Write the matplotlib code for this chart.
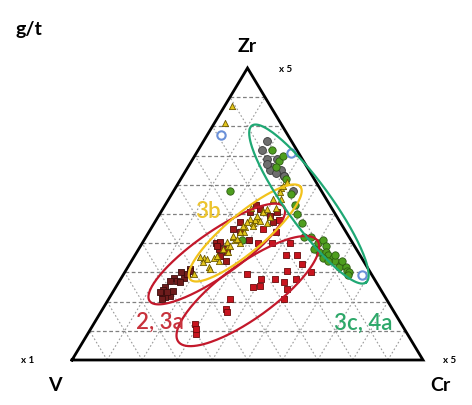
import matplotlib
matplotlib.use("Agg")
import matplotlib.pyplot as plt
import numpy as np

plt.rcParams['font.family'] = ['Lato', 'DejaVu Sans']

# ternary values in % (Zr top, Cr right, V = rest)
blue_zr = [77, 71, 29]
blue_cr = [4, 27, 68]

gray_zr = [75, 69, 66, 65, 63, 65, 69, 63, 58, 72, 64, 67]
gray_cr = [18, 21, 24, 27, 29, 24, 24, 29, 34, 18, 26, 22]

green_zr = [72, 68, 70, 66, 62, 58, 53, 50, 47, 42, 42, 40, 41, 39, 37, 37, 36, 35, 35, 34,
            33, 32, 32, 30.5, 30, 29, 34, 36, 38, 34, 57, 41]
green_cr = [21, 25, 25, 25, 30, 16, 37, 39, 42, 45, 47, 50, 51, 53, 52, 54, 55, 54, 57, 58,
            60, 60, 62, 63, 64, 64, 60, 57, 50, 56, 34, 28]

yel_zr = [87, 81, 52, 48, 47, 44, 41, 39, 37, 34, 35, 32, 51, 47, 59, 55, 52, 49, 48, 29.5,
          45.5, 42, 40, 35,
          48.3, 49.3, 50.7, 51.7, 45.9, 43.8, 42.5, 40.4, 38.0, 35.6, 34.6, 33.6, 35.3, 45.9,
          47.6, 55.1, 57.5, 59.6, 61.0, 39.0, 41.4, 47.3, 31.2]
yel_cr = [2, 3, 25, 29, 28, 27, 26, 25, 26, 25, 20, 23, 29, 32, 30, 32, 32, 32, 28, 20,
          26.5, 25, 28, 23,
          26.6, 28.0, 29.1, 29.8, 25.8, 26.0, 24.7, 24.0, 24.0, 23.5, 21.2, 20.5, 18.9, 28.7,
          29.8, 29.7, 30.5, 30.3, 30.8, 25.5, 26.3, 26.3, 23.7]

dred_zr = [40, 38, 34, 41, 53, 44, 38, 50.7, 47.3, 44.9, 40.4, 39.0, 35.6, 37.0, 51.7, 49.3,
           50.7, 47.3]
dred_cr = [21, 23, 27, 30, 26, 26, 25, 25.4, 24.3, 23.5, 22.0, 21.8, 24.4, 25.7, 27.8, 31.7,
           33.1, 33.7]

brown_zr = [30, 28, 25, 23, 22, 27, 28, 29.5, 21.6, 23.6, 27, 24, 21, 31, 30.5, 23.3, 26.7, 23.3]
brown_cr = [16, 15, 14, 14, 17, 16.5, 18, 18, 15.7, 17, 14.5, 14, 15, 18, 18.4, 13.5, 17.4, 15.5]

red_zr = [29.5, 21, 17.5, 16.4, 25, 25.3, 27.7, 27.7, 26.7, 24.3, 21, 30.5, 27.7, 12.3, 8.9,
          10.6, 40, 36, 33, 30, 36, 40, 44, 40, 48, 45]
red_cr = [35, 34.5, 35, 36, 39, 41, 40, 44, 47, 49, 50, 46, 50, 29, 31,
          30, 42, 46, 49, 53, 43, 37, 36, 33, 35, 32]

# ellipses: centre (Zr, Cr), semi-axes in px, angle deg
ell_zr = [36.3, 23.6, 43.5, 53.4]
ell_cr = [23.1, 38.3, 27.6, 40.8]
ell_a = [82, 86, 72, 97]
ell_b = [22, 27, 19, 22]
ell_ang = [35, 36, 40, -54]
ell_col = ['#c3182b', '#c3182b', '#f2c21b', '#1fa874']

PX_X = 3.51  # px per unit along base
PX_Y = 2.92  # px per unit of height


def tern(zr, cr):
    zr = np.asarray(zr, float)
    cr = np.asarray(cr, float)
    return cr + zr / 2, zr


fig = plt.figure(figsize=(4.72, 4.06), dpi=100)
ax = fig.add_axes([72 / 472, 45 / 406, 351 / 472, 292 / 406])
ax.set_xlim(0, 100)
ax.set_ylim(0, 100)
ax.axis('off')

# grid
for i in range(1, 10):
    v = i * 10
    x0, y0 = tern(v, 0)
    x1, y1 = tern(v, 100 - v)
    ax.plot([x0, x1], [y0, y1], color='#808080', lw=0.9, ls=(0, (3, 2)), zorder=1)
    x0, y0 = tern(0, v)
    x1, y1 = tern(100 - v, v)
    ax.plot([x0, x1], [y0, y1], color='#999999', lw=0.8, ls=(0, (1.5, 2)), zorder=1)
    x0, y0 = tern(0, 100 - v)
    x1, y1 = tern(100 - v, 0)
    ax.plot([x0, x1], [y0, y1], color='#999999', lw=0.8, ls=(0, (1.5, 2)), zorder=1)

tx, ty = tern([0, 0, 100, 0], [0, 100, 0, 0])
ax.plot(tx, ty, color='black', lw=2, zorder=2, solid_joinstyle='miter', clip_on=False)

x, y = tern(gray_zr, gray_cr)
ax.scatter(x, y, s=32, c='#6e6e6e', edgecolors='#3a3a3a', linewidths=0.6, zorder=3)
x, y = tern(green_zr, green_cr)
ax.scatter(x, y, s=28, c='#4e9e1e', edgecolors='#2d5a12', linewidths=0.6, zorder=3)
x, y = tern(red_zr, red_cr)
ax.scatter(x, y, s=20, marker='s', c='#c8141e', edgecolors='#6a0a0a', linewidths=0.6, zorder=3)
x, y = tern(brown_zr, brown_cr)
ax.scatter(x, y, s=24, marker='s', c='#6e1c1c', edgecolors='#3a0c0c', linewidths=0.6, zorder=3)
x, y = tern(dred_zr, dred_cr)
ax.scatter(x, y, s=20, marker='s', c='#9e1818', edgecolors='#4a0a0a', linewidths=0.6, zorder=4)
x, y = tern(yel_zr, yel_cr)
ax.scatter(x, y, s=20, marker='^', c='#e3c61a', edgecolors='#6b5800', linewidths=0.6, zorder=5)
x, y = tern(blue_zr, blue_cr)
ax.scatter(x, y, s=36, facecolors='white', edgecolors='#6a90d8', linewidths=1.5, zorder=5)

t = np.linspace(0, 2 * np.pi, 200)
for zr, cr, a, b, ang, col in zip(ell_zr, ell_cr, ell_a, ell_b, ell_ang, ell_col):
    cx, cy = tern(zr, cr)
    th = np.radians(ang)
    dx = a * np.cos(t) * np.cos(th) - b * np.sin(t) * np.sin(th)
    dy = a * np.cos(t) * np.sin(th) + b * np.sin(t) * np.cos(th)
    ax.plot(cx + dx / PX_X, cy + dy / PX_Y, color=col, lw=1.6, zorder=6)


def ftxt(px, py, s, **kw):
    fig.text(px / 472, 1 - py / 406, s, ha='center', va='center', **kw)


ftxt(29, 30, 'g/t', fontsize=14, fontweight='bold')
ftxt(247, 47, 'Zr', fontsize=14, fontweight='bold')
ftxt(55, 386, 'V', fontsize=14, fontweight='bold')
ftxt(440, 386, 'Cr', fontsize=14, fontweight='bold')
ftxt(286, 70, 'x 5', fontsize=7, fontweight='bold')
ftxt(28, 361, 'x 1', fontsize=7, fontweight='bold')
ftxt(450, 361, 'x 5', fontsize=7, fontweight='bold')
ftxt(208, 212, '3b', fontsize=16, color='#ecc42e', fontweight='semibold')
ftxt(160, 322, '2, 3a', fontsize=16, color='#c8323c', fontweight='semibold')
ftxt(363, 323, '3c, 4a', fontsize=16, color='#2ea86a', fontweight='semibold')

fig.savefig('out.png', dpi=100, facecolor='white')
